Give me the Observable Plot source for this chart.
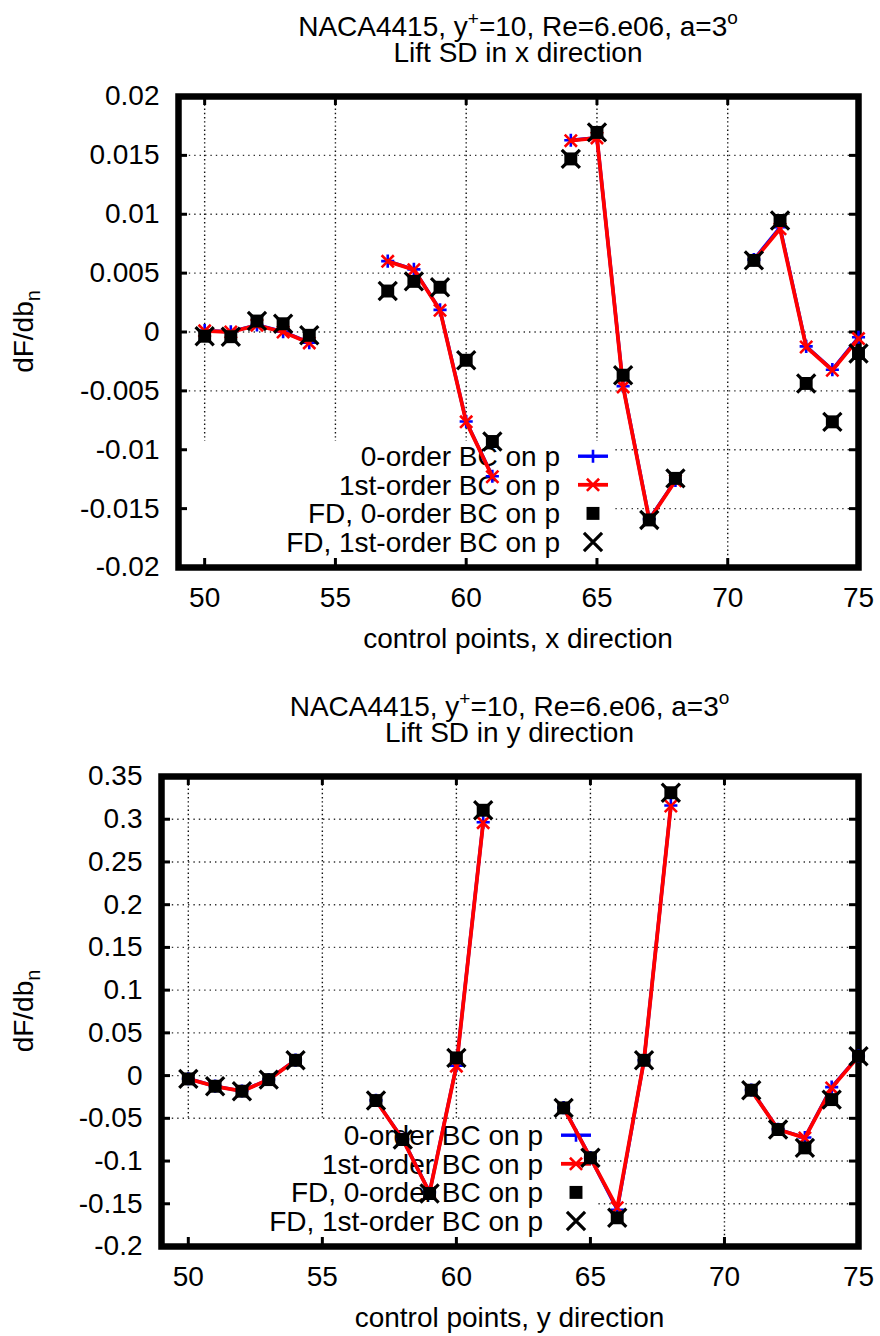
<!DOCTYPE html>
<html><head><meta charset="utf-8">
<script src="https://cdn.jsdelivr.net/npm/d3@7"></script>
<script src="https://cdn.jsdelivr.net/npm/@observablehq/plot@0.6"></script>
<style>
body{margin:0;background:#fff;}
#wrap{width:880px;}
#wrap svg{display:block;}
</style></head><body><div id="wrap"></div>
<script>
// ---------- data ----------
const xPoints   = [50,51,52,53,54, 57,58,59,60,61, 64,65,66,67,68, 71,72,73,74,75];
const segments  = [0,0,0,0,0, 1,1,1,1,1, 2,2,2,2,2, 3,3,3,3,3];
const xDomain = [49, 75];
const xTicks = [50, 55, 60, 65, 70, 75];
const xTickLabels = ["50", "55", "60", "65", "70", "75"];
const xGrid = [50, 55, 60, 65, 70];

const seriesNames = ["0-order BC on p", "1st-order BC on p", "FD, 0-order BC on p", "FD, 1st-order BC on p"];

// panel 1: x direction
const xdirTitle = "Lift SD in x direction";
const xdirXLabel = "control points, x direction";
const xdirYDomain = [-0.02, 0.02];
const xdirYTicks = [-0.02, -0.015, -0.01, -0.005, 0, 0.005, 0.01, 0.015, 0.02];
const xdirYTickLabels = ["-0.02", "-0.015", "-0.01", "-0.005", "0", "0.005", "0.01", "0.015", "0.02"];
const xdirOrder0 = [0.00012, 0.00002, 0.0006, 0.00003, -0.0009, 0.00602, 0.00532, 0.00188, -0.0076, -0.01225, 0.01628, 0.0165, -0.0046, -0.0159, -0.0126, 0.00615, 0.0089, -0.00122, -0.0032, -0.00045];
const xdirOrder1 = [0.0001, 0.0, 0.00057, 0.0, -0.00093, 0.006, 0.00529, 0.00184, -0.00763, -0.01229, 0.01625, 0.01648, -0.00466, -0.01596, -0.01263, 0.00608, 0.00876, -0.00127, -0.00325, -0.00056];
const xdirFD0 = [-0.00036, -0.0004, 0.00093, 0.0007, -0.00028, 0.00348, 0.0043, 0.0038, -0.0024, -0.0093, 0.0147, 0.01695, -0.00367, -0.01596, -0.01243, 0.00608, 0.00947, -0.00437, -0.00763, -0.00183];
const xdirFD1 = [-0.00036, -0.0004, 0.00093, 0.0007, -0.00028, 0.00348, 0.0043, 0.0038, -0.0024, -0.0093, 0.0147, 0.01695, -0.00367, -0.01596, -0.01243, 0.00608, 0.00947, -0.00437, -0.00763, -0.00183];

// panel 2: y direction
const ydirTitle = "Lift SD in y direction";
const ydirXLabel = "control points, y direction";
const ydirYDomain = [-0.2, 0.35];
const ydirYTicks = [-0.2, -0.15, -0.1, -0.05, 0, 0.05, 0.1, 0.15, 0.2, 0.25, 0.3, 0.35];
const ydirYTickLabels = ["-0.2", "-0.15", "-0.1", "-0.05", "0", "0.05", "0.1", "0.15", "0.2", "0.25", "0.3", "0.35"];
const ydirOrder0 = [-0.0037, -0.0123, -0.0181, -0.0045, 0.0181, -0.029, -0.0745, -0.1365, 0.0115, 0.2965, -0.0375, -0.096, -0.157, 0.018, 0.316, -0.0168, -0.0628, -0.0725, -0.0135, 0.0228];
const ydirOrder1 = [-0.0039, -0.0125, -0.0183, -0.0047, 0.0179, -0.0292, -0.0748, -0.137, 0.011, 0.296, -0.0378, -0.0962, -0.1547, 0.0179, 0.3155, -0.0171, -0.0631, -0.0729, -0.0144, 0.0226];
const ydirFD0 = [-0.0039, -0.0125, -0.0183, -0.0047, 0.0179, -0.0292, -0.0748, -0.138, 0.0207, 0.3105, -0.0378, -0.0962, -0.1664, 0.0179, 0.331, -0.0171, -0.0631, -0.0846, -0.0281, 0.0226];
const ydirFD1 = [-0.0039, -0.0125, -0.0183, -0.0047, 0.0179, -0.0292, -0.0748, -0.138, 0.0207, 0.3105, -0.0378, -0.0962, -0.1664, 0.0179, 0.331, -0.0171, -0.0631, -0.0846, -0.0281, 0.0226];

// ---------- style ----------
const FONT = "'Liberation Sans', Arial, Helvetica, sans-serif";
const FS = 28;
const BLUE = "#0000ff", RED = "#ff0000", BLACK = "#000000";
const W = 880, H = 668;
const SYM = {
  o0: {symbol: "plus", r: 4.3, stroke: BLUE, sw: 2.6},
  o1: {symbol: "times", r: 5.6, stroke: RED, sw: 2.6},
  fd0: {symbol: "square", r: 7.3, fill: BLACK},
  fd1: {symbol: "times", r: 8.3, stroke: BLACK, sw: 3.2}
};

function panel(cfg) {
  const ml = cfg.ml, mr = 22, mt = cfg.mt, mb = cfg.mb;
  const innerW = W - ml - mr, innerH = H - mt - mb;
  const rows = vals => xPoints.map((x, i) => ({x, y: vals[i], s: segments[i]}));
  const fmtY = d => cfg.yLabels[cfg.yTicks.indexOf(d)];
  const yGrid = cfg.yTicks.slice(1, -1);
  const svgEl = Plot.plot({
    width: W, height: H,
    marginLeft: ml, marginRight: mr, marginTop: mt, marginBottom: mb,
    style: {fontFamily: FONT, fontSize: FS + "px", color: "#000", background: "#fff", overflow: "visible"},
    x: {domain: xDomain, ticks: xTicks, tickFormat: d => xTickLabels[xTicks.indexOf(d)], tickSize: 0, tickPadding: 20, label: null},
    y: {domain: cfg.yDomain, ticks: cfg.yTicks, tickFormat: fmtY, tickSize: 0, tickPadding: 19, label: null},
    marks: [
      Plot.ruleX(xGrid, {stroke: "#111", strokeWidth: 1.4, strokeDasharray: "1.4,2.8"}),
      Plot.ruleY(yGrid, {stroke: "#333", strokeWidth: 1.4, strokeDasharray: "1.4,4"}),
      Plot.frame({stroke: "#000", strokeWidth: 6.5}),
      Plot.ruleX(xTicks, {insetTop: innerH - 9, stroke: "#000", strokeWidth: 3}),
      Plot.ruleX(xTicks, {insetBottom: innerH - 9, stroke: "#000", strokeWidth: 3}),
      Plot.ruleY(cfg.yTicks, {insetRight: innerW - 9, stroke: "#000", strokeWidth: 3}),
      Plot.ruleY(cfg.yTicks, {insetLeft: innerW - 9, stroke: "#000", strokeWidth: 3}),
      Plot.line(rows(cfg.o0), {x: "x", y: "y", z: "s", stroke: BLUE, strokeWidth: 3.4}),
      Plot.dot(rows(cfg.o0), {x: "x", y: "y", symbol: SYM.o0.symbol, r: SYM.o0.r, stroke: BLUE, strokeWidth: SYM.o0.sw, fill: "none"}),
      Plot.line(rows(cfg.o1), {x: "x", y: "y", z: "s", stroke: RED, strokeWidth: 3.8}),
      Plot.dot(rows(cfg.o1), {x: "x", y: "y", symbol: SYM.o1.symbol, r: SYM.o1.r, stroke: RED, strokeWidth: SYM.o1.sw, fill: "none"}),
      Plot.dot(rows(cfg.fd0), {x: "x", y: "y", symbol: SYM.fd0.symbol, r: SYM.fd0.r, fill: BLACK, stroke: "none"}),
      Plot.dot(rows(cfg.fd1), {x: "x", y: "y", symbol: SYM.fd1.symbol, r: SYM.fd1.r, stroke: BLACK, strokeWidth: SYM.fd1.sw, fill: "none"})
    ]
  });

  const svg = d3.select(svgEl);
  const fL = ml, fR = W - mr, fT = mt, fB = H - mb, cx = (fL + fR) / 2;

  // legend (key): above the grid, below the frame and the data
  const frameNode = svgEl.querySelector('[aria-label="frame"]');
  const keyNode = document.createElementNS("http://www.w3.org/2000/svg", "g");
  if (frameNode) frameNode.parentNode.insertBefore(keyNode, frameNode); else svgEl.appendChild(keyNode);
  const key = d3.select(keyNode);
  key.attr("font-family", FONT).attr("font-size", FS);
  const boxRight = fL + 436, boxTop = fB - 126;
  key.append("rect").attr("x", fL).attr("y", boxTop).attr("width", boxRight - fL).attr("height", fB - boxTop).attr("fill", "#fff");
  const textRight = fL + 382, sampleX = fL + 415;
  const keys = ["o0", "o1", "fd0", "fd1"];
  keys.forEach((k, i) => {
    const yy = fB - 25 - 28.6 * (3 - i);
    key.append("text").attr("x", textRight).attr("y", yy).attr("dy", "0.35em")
      .attr("text-anchor", "end").attr("fill", "#000").text(seriesNames[i]);
    const s = SYM[k];
    if (k === "o0" || k === "o1") {
      key.append("line").attr("x1", sampleX - 15).attr("x2", sampleX + 15).attr("y1", yy).attr("y2", yy)
        .attr("stroke", s.stroke).attr("stroke-width", k === "o0" ? 3.4 : 3.8);
    }
    const symType = {plus: d3.symbolPlus, times: d3.symbolTimes, square: d3.symbolSquare}[s.symbol];
    key.append("path").attr("transform", `translate(${sampleX},${yy})`)
      .attr("d", d3.symbol(symType, s.r * s.r * Math.PI)())
      .attr("fill", s.fill || "none").attr("stroke", s.stroke || "none").attr("stroke-width", s.sw || 0);
  });

  // titles and axis labels
  const lab = svg.append("g").attr("font-family", FONT).attr("font-size", FS).attr("fill", "#000");
  const t1 = lab.append("text").attr("x", cx).attr("y", fT - 60).attr("text-anchor", "middle");
  t1.append("tspan").text("NACA4415, y");
  t1.append("tspan").attr("font-size", 19).attr("dy", -11).text("+");
  t1.append("tspan").attr("dy", 11).text("=10, Re=6.e06, a=3");
  t1.append("tspan").attr("font-size", 19).attr("dy", -12).text("o");
  lab.append("text").attr("x", cx).attr("y", fT - 34).attr("text-anchor", "middle").text(cfg.title);
  lab.append("text").attr("x", cx).attr("y", fB + 81).attr("text-anchor", "middle").text(cfg.xLabel);
  const yl = lab.append("text").attr("transform", `translate(33,${(fT + fB) / 2}) rotate(-90)`).attr("text-anchor", "middle");
  yl.append("tspan").text("dF/db");
  yl.append("tspan").attr("font-size", 20).attr("dy", 7).text("n");
  return svgEl;
}

const wrap = document.getElementById("wrap");
wrap.appendChild(panel({
  ml: 178, mt: 96, mb: 101, yDomain: xdirYDomain, yTicks: xdirYTicks, yLabels: xdirYTickLabels,
  o0: xdirOrder0, o1: xdirOrder1, fd0: xdirFD0, fd1: xdirFD1, title: xdirTitle, xLabel: xdirXLabel
}));
wrap.appendChild(panel({
  ml: 161, mt: 108, mb: 90, yDomain: ydirYDomain, yTicks: ydirYTicks, yLabels: ydirYTickLabels,
  o0: ydirOrder0, o1: ydirOrder1, fd0: ydirFD0, fd1: ydirFD1, title: ydirTitle, xLabel: ydirXLabel
}));
</script></body></html>
